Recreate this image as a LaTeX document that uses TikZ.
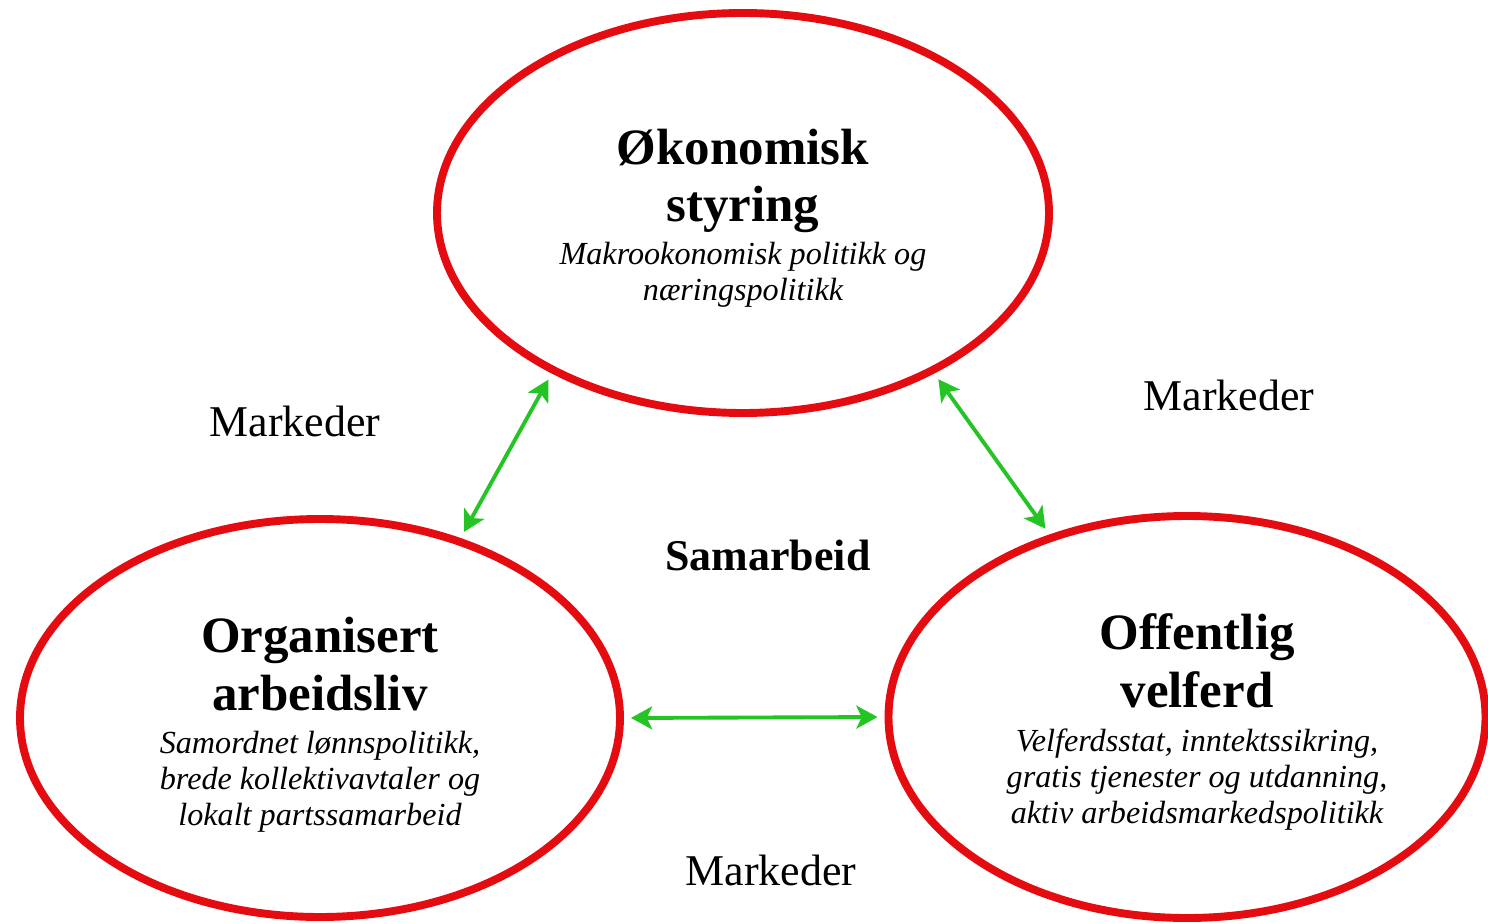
\documentclass[tikz,border=0pt]{standalone}
\usepackage{fontspec}
\setmainfont{Liberation Serif}
\usetikzlibrary{shapes.geometric,arrows.meta}

\definecolor{ovalred}{RGB}{228,12,16}
\definecolor{arrowgreen}{RGB}{36,196,36}

\begin{document}
\begin{tikzpicture}

\tikzstyle{oval} = [ellipse, draw=ovalred, line width=4.5pt, inner sep=0pt]
\tikzstyle{heading} = [align=center, anchor=base, font=\fontsize{29}{32.5}\selectfont\bfseries]
\tikzstyle{subtext} = [align=center, anchor=base, font=\fontsize{18.3}{20.3}\selectfont\itshape]
\tikzstyle{market} = [anchor=base, font=\fontsize{25}{30}\selectfont]
\tikzstyle{link} = [{Stealth[length=12pt,width=13pt,inset=3pt]}-{Stealth[length=12pt,width=13pt,inset=3pt]}, draw=arrowgreen, line width=2.2pt, shorten <=4pt, shorten >=4pt]

\useasboundingbox (0,0) rectangle (29.76,18.46);

%------------------------------------------------------------
	\node[oval, minimum width=12.24cm, minimum height=8cm] (eco) at (14.86,14.20) {};
	\node[heading, yshift=-0.18cm] (ecoT) at (eco.center) {Økonomisk\\styring};
	\node[subtext, yshift=-1.74cm] (ecoS) at (eco.center) {Makrookonomisk politikk og\\næringspolitikk};

%------------------------------------------------------------
	\node[oval, minimum width=12cm, minimum height=7.96cm] (arb) at (6.40,4.10) {};
	\node[heading, yshift=0.16cm] (arbT) at (arb.center) {Organisert\\arbeidsliv};
	\node[subtext, yshift=-2.14cm] (arbS) at (arb.center) {Samordnet lønnspolitikk,\\brede kollektivavtaler og\\lokalt partssamarbeid};

%------------------------------------------------------------
	\node[oval, minimum width=11.94cm, minimum height=8.04cm] (vel) at (23.74,4.12) {};
	\node[heading, xshift=0.2cm, yshift=0.2cm] (velT) at (vel.center) {Offentlig\\velferd};
	\node[subtext, xshift=0.2cm, yshift=-2.12cm] (velS) at (vel.center) {Velferdsstat, inntektssikring,\\gratis tjenester og utdanning,\\aktiv arbeidsmarkedspolitikk};

%------------------------------------------------------------
	\node[market] (mLeft) at (5.90,9.74) {Markeder};
	\node[market] (mRight) at (24.58,10.26) {Markeder};
	\node[market] (mBottom) at (15.42,0.76) {Markeder};
	\node[market, font=\fontsize{25}{30}\selectfont\bfseries] (coop) at (15.36,7.06) {Samarbeid};

	\draw[link] (arb.52.7) -- (eco.220.2);
	\draw[link] (eco.320.5) -- (vel.127);
	\draw[link] (arb.east) -- (vel.west);

\end{tikzpicture}
\end{document}
